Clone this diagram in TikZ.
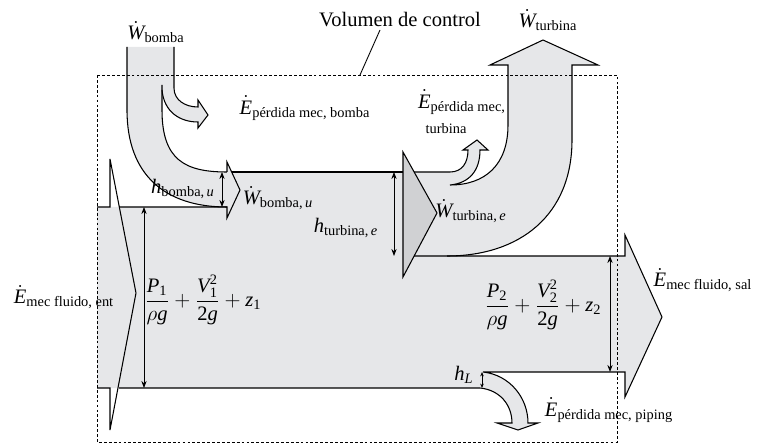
\documentclass[tikz,border=0pt]{standalone}
\usepackage{amsmath}
\usepackage{fontspec}
\setmainfont{Liberation Serif}
\usetikzlibrary{arrows.meta}

\definecolor{bandgray}{RGB}{230,231,233}
\definecolor{headgray}{RGB}{208,209,211}
\newcommand{\mi}[1]{\text{\itshape #1}}
\newcommand{\nd}[1]{\text{#1}}

\begin{document}
\begin{tikzpicture}[
    x=0.02cm, y=-0.02cm,
    font=\fontsize{11.7}{14}\selectfont,
    band/.style={fill=bandgray, draw=none},
    edge/.style={line width=0.6pt, line join=miter},
    dim/.style={
        {Stealth[length=4pt,width=3pt]}-{Stealth[length=4pt,width=3pt]}, line width=0.5pt
    },
    cvbox/.style={line width=0.5pt, dash pattern=on 1.6pt off 1.2pt},
    lbl/.style={inner sep=0pt}
]
\useasboundingbox (0,0) rectangle (758,446);

% --- gray fills of the energy bands ---
\fill[band] (97,207) -- (403,207) -- (403,256) -- (625,256) -- (625,235)
  -- (662,317) -- (625,397) -- (625,372) -- (483,372)
  .. controls (510,375) and (528,398) .. (528,423) -- (538,423) -- (518,430)
  -- (497,423) -- (512,423) .. controls (512,405) and (500,390) .. (480,388)
  -- (97,388) -- cycle;
\fill[band] (127,47) -- (127,110) .. controls (127,175) and (165,207) .. (227,207)
  -- (227,172) .. controls (185,172) and (162,160) .. (162,110) -- (162,90)
  .. controls (164,112) and (180,122) .. (198,122) -- (198,128) -- (208,115)
  -- (198,100) -- (198,107) .. controls (185,107) and (174,100) .. (174,88)
  -- (174,47) -- cycle;
\fill[band] (227,162) -- (240,190) -- (227,218) -- cycle;
\fill[band] (227,172) rectangle (404,207);
\fill[band] (403,172) -- (450,172) .. controls (462,172) and (468,163) .. (468,150)
  -- (463,150) -- (477,140) -- (488,150) -- (480,150)
  .. controls (480,170) and (470,183) .. (450,185)
  .. controls (485,185) and (508,165) .. (508,125) -- (508,65) -- (490,65)
  -- (543,40) -- (598,65) -- (572,65) -- (572,140)
  .. controls (572,215) and (520,256) .. (447,256) -- (403,256) -- cycle;

% --- turbine arrowhead ---
\draw[edge, fill=headgray] (403,152) -- (437,213) -- (403,277) -- cycle;

% --- outlines ---
% inlet
\draw[edge] (97,207) -- (110,207) -- (110,159) -- (136,293) -- (110,430) -- (110,388) -- (97,388);
% pump
\draw[edge] (119,207) -- (227,207) -- (227,218) -- (240,190) -- (227,162) -- (227,172);
\draw[edge] (127,47) -- (127,110) .. controls (127,175) and (165,207) .. (227,207);
\draw[edge] (162,85) -- (162,110) .. controls (162,160) and (185,172) .. (227,172);
\draw[edge] (174,47) -- (174,88) .. controls (174,100) and (185,107) .. (198,107)
  -- (198,100) -- (208,115) -- (198,128) -- (198,122)
  .. controls (180,122) and (164,112) .. (162,90);
\draw[edge] (232,172) -- (403,172);
% turbine
\draw[edge] (414,172) -- (450,172) .. controls (462,172) and (468,163) .. (468,150)
  -- (463,150) -- (477,140) -- (488,150) -- (480,150)
  .. controls (480,170) and (470,183) .. (450,185)
  .. controls (485,185) and (508,165) .. (508,125) -- (508,65) -- (490,65)
  -- (543,40) -- (598,65) -- (572,65) -- (572,140)
  .. controls (572,215) and (520,256) .. (447,256);
% outlet and piping loss
\draw[edge] (414,256) -- (625,256) -- (625,235) -- (662,317) -- (625,397) -- (625,372)
  -- (483,372) .. controls (510,375) and (528,398) .. (528,423) -- (538,423)
  -- (518,430) -- (497,423) -- (512,423) .. controls (512,405) and (500,390) .. (480,388)
  -- (119,388);

% --- control volume ---
\draw[cvbox] (97,75) rectangle (617,442);
\coordinate (cvtop) at (360,75);

% --- heads ---
\coordinate (hpa) at (222,172);  \coordinate (hpb) at (222,207);
\coordinate (hta) at (394,172);  \coordinate (htb) at (394,256);
\coordinate (in1) at (144,207);  \coordinate (in2) at (144,388);
\coordinate (out1) at (610,256); \coordinate (out2) at (610,372);
\coordinate (hla) at (482,372);  \coordinate (hlb) at (482,388);
\draw[dim] (hpa) -- (hpb);
\draw[dim] (hta) -- (htb);
\draw[dim] (in1) -- (in2);
\draw[dim] (out1) -- (out2);
\draw[dim, {Stealth[length=2.5pt,width=2pt]}-{Stealth[length=2.5pt,width=2pt]}] (hla) -- (hlb);

% --- labels ---
\node[lbl] (volctrl) at (400,20) {Volumen de control};
\draw[line width=0.5pt] (380,30) -- (cvtop);
\node[lbl] (wbomba) at (156,32) {$\dot{\mi{W}}_{\text{bomba}}$};
\node[lbl] (eperdbomba) at (305,108) {$\dot{\mi{E}}_{\text{pérdida mec, bomba}}$};
\node[lbl] (wturbina) at (548,20) {$\dot{\mi{W}}_{\text{turbina}}$};
\node[lbl] (eperdturb) at (462,102) {$\dot{\mi{E}}_{\text{pérdida mec,}}$};
\node[lbl, font=\fontsize{8.2}{10}\selectfont] (turbtxt) at (446,129) {turbina};
\node[lbl] (hbomba) at (183,189) {$\mi{h}_{\text{bomba,}\,\mi{u}}$};
\node[lbl] (wbombau) at (278,198) {$\dot{\mi{W}}_{\text{bomba,}\,\mi{u}}$};
\node[lbl] (hturbina) at (346,228) {$\mi{h}_{\text{turbina,}\,\mi{e}}$};
\node[lbl] (wturbinae) at (471,211) {$\dot{\mi{W}}_{\text{turbina,}\,\mi{e}}$};
\node[lbl] (emecent) at (64,297) {$\dot{\mi{E}}_{\text{mec fluido, ent}}$};
\node[lbl] (head1) at (203,300) {$\dfrac{\mi{P}_{\nd{1}}}{\rho\mi{g}}+\dfrac{\mi{V}_{\nd{1}}^{\nd{2}}}{\nd{2}\mi{g}}+\mi{z}_{\nd{1}}$};
\node[lbl] (head2) at (543,305) {$\dfrac{\mi{P}_{\nd{2}}}{\rho\mi{g}}+\dfrac{\mi{V}_{\nd{2}}^{\nd{2}}}{\nd{2}\mi{g}}+\mi{z}_{\nd{2}}$};
\node[lbl] (emecsal) at (703,280) {$\dot{\mi{E}}_{\text{mec fluido, sal}}$};
\node[lbl] (hl) at (464,375) {$\mi{h}_{\mi{L}}$};
\node[lbl] (eperdpip) at (609,410) {$\dot{\mi{E}}_{\text{pérdida mec, piping}}$};
\end{tikzpicture}
\end{document}
